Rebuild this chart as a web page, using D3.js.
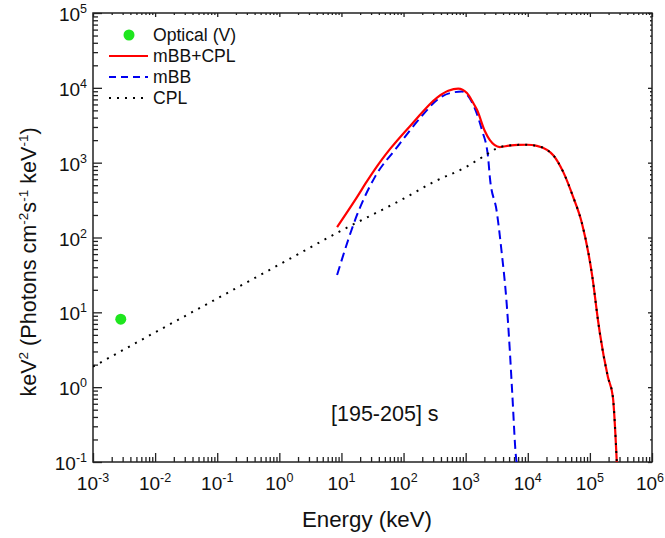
<!DOCTYPE html>
<html>
<head>
<meta charset="utf-8">
<script src="https://cdn.jsdelivr.net/npm/d3@7"></script>
<style>
  html, body { margin: 0; padding: 0; background: #fff; }
  svg { display: block; font-family: "Liberation Sans", Arial, sans-serif; }
</style>
</head>
<body>
<svg id="chart" width="665" height="538"></svg>
<script>
// ---------- data ----------
const xTickExps = [-3, -2, -1, 0, 1, 2, 3, 4, 5, 6];
const yTickExps = [-1, 0, 1, 2, 3, 4, 5];

const opticalE = [0.0028];
const opticalF = [8.1];

const cplE = [0.001, 0.01, 0.1, 1, 10, 100, 316, 1000, 1905, 3548, 5000, 7000, 9772, 14000, 20400, 25700, 37150, 53700, 74130, 109600, 134900, 144500, 195000, 234400, 271000];
const cplF = [1.88, 5.4, 15.3, 43.5, 124, 330, 560, 870, 1202, 1615, 1690, 1730, 1735, 1680, 1480, 1259, 753, 349, 157, 29.7, 7.9, 5.3, 1.37, 0.74, 0.1];

const mbbE = [8.51, 18.6, 34.7, 79.4, 186, 389, 562, 871, 1259, 1820, 2291, 2455, 3162, 3802, 4571, 5129, 5623, 6457, 6600];
const mbbF = [31.6, 219, 646, 1622, 3981, 7413, 8511, 8913, 6457, 2754, 1202, 631, 224, 63, 13.2, 3.16, 0.83, 0.117, 0.1];

const sumE = [8.51, 17.8, 25.7, 44.7, 60.3, 141, 347, 525, 759, 1047, 1318, 1514, 2042, 2455, 3548, 5000, 7000, 9772, 14000, 20400, 25700, 37150, 53700, 74130, 109600, 134900, 144500, 195000, 234400, 271000];
const sumF = [138, 347, 562, 1096, 1514, 3388, 7413, 9120, 9772, 8511, 6310, 5129, 2630, 1995, 1615, 1690, 1730, 1735, 1680, 1480, 1259, 753, 349, 157, 29.7, 7.9, 5.3, 1.37, 0.74, 0.1];

const legendLabels = ["Optical (V)", "mBB+CPL", "mBB", "CPL"];
const periodLabel = "[195-205] s";

// ---------- layout ----------
const svg = d3.select("#chart");
const L = 93, R = 652, T = 13, B = 462;
const x = d3.scaleLog().domain([1e-3, 1e6]).range([L, R]);
const y = d3.scaleLog().domain([1e-1, 1e5]).range([B, T]);

const defs = svg.append("defs");
defs.append("clipPath").attr("id", "clip").append("rect")
  .attr("x", L).attr("y", T).attr("width", R - L).attr("height", B - T);

function minors(exps) {
  const out = [];
  for (let i = 0; i < exps.length - 1; i++) {
    for (let m = 2; m <= 9; m++) out.push(m * Math.pow(10, exps[i]));
  }
  return out;
}
const xMajor = xTickExps.map(e => Math.pow(10, e));
const yMajor = yTickExps.map(e => Math.pow(10, e));
const xMinor = minors(xTickExps);
const yMinor = minors(yTickExps);

const axisColor = "#222";
function styleAxis(g) {
  g.select(".domain").remove();
  g.selectAll("line").attr("stroke", axisColor).attr("stroke-width", 1.3);
}
svg.append("g").attr("transform", `translate(0,${B})`)
  .call(d3.axisBottom(x).tickValues(xMajor).tickSize(-9).tickFormat("")).call(styleAxis);
svg.append("g").attr("transform", `translate(0,${B})`)
  .call(d3.axisBottom(x).tickValues(xMinor).tickSize(-5).tickFormat("")).call(styleAxis);
svg.append("g").attr("transform", `translate(0,${T})`)
  .call(d3.axisTop(x).tickValues(xMajor).tickSize(-4).tickFormat("")).call(styleAxis);
svg.append("g").attr("transform", `translate(0,${T})`)
  .call(d3.axisTop(x).tickValues(xMinor).tickSize(-2).tickFormat("")).call(styleAxis);
svg.append("g").attr("transform", `translate(${L},0)`)
  .call(d3.axisLeft(y).tickValues(yMajor).tickSize(-9).tickFormat("")).call(styleAxis);
svg.append("g").attr("transform", `translate(${L},0)`)
  .call(d3.axisLeft(y).tickValues(yMinor).tickSize(-5).tickFormat("")).call(styleAxis);
svg.append("g").attr("transform", `translate(${R},0)`)
  .call(d3.axisRight(y).tickValues(yMajor).tickSize(-4).tickFormat("")).call(styleAxis);
svg.append("g").attr("transform", `translate(${R},0)`)
  .call(d3.axisRight(y).tickValues(yMinor).tickSize(-2).tickFormat("")).call(styleAxis);

svg.append("rect").attr("x", L).attr("y", T).attr("width", R - L).attr("height", B - T)
  .attr("fill", "none").attr("stroke", axisColor).attr("stroke-width", 1.5);

// tick labels
const tickFont = 19, supFont = 12.5;
xTickExps.forEach((e, i) => {
  const shift = (i === xTickExps.length - 1) ? -2 : 0;
  const t = svg.append("text").attr("x", x(Math.pow(10, e)) + shift).attr("y", B + 28)
    .attr("text-anchor", "middle").attr("font-size", tickFont).attr("fill", "#111");
  t.append("tspan").text("10");
  t.append("tspan").attr("dy", -8).attr("font-size", supFont).text(String(e));
});
yTickExps.forEach(e => {
  const t = svg.append("text").attr("x", L - 6).attr("y", y(Math.pow(10, e)) + 8)
    .attr("text-anchor", "end").attr("font-size", tickFont).attr("fill", "#111");
  t.append("tspan").text("10");
  t.append("tspan").attr("dy", -8).attr("font-size", supFont).text(String(e));
});

// axis titles
svg.append("text").attr("x", 367).attr("y", 527)
  .attr("text-anchor", "middle").attr("font-size", 22.3).attr("fill", "#111")
  .text("Energy (keV)");

const yt = svg.append("text")
  .attr("transform", `translate(36,262) rotate(-90)`)
  .attr("text-anchor", "middle").attr("font-size", 21.6).attr("fill", "#111");
const ySup = 13.5;
yt.append("tspan").text("keV");
yt.append("tspan").attr("dy", -8).attr("font-size", ySup).text("2");
yt.append("tspan").attr("dy", 8).text(" (Photons cm");
yt.append("tspan").attr("dy", -8).attr("font-size", ySup).text("-2");
yt.append("tspan").attr("dy", 8).text("s");
yt.append("tspan").attr("dy", -8).attr("font-size", ySup).text("-1");
yt.append("tspan").attr("dy", 8).text(" keV");
yt.append("tspan").attr("dy", -8).attr("font-size", ySup).text("-1");
yt.append("tspan").attr("dy", 8).text(")");

// ---------- curves ----------
const line = d3.line().x(d => x(d[0])).y(d => y(d[1])).curve(d3.curveMonotoneX);
const plot = svg.append("g").attr("clip-path", "url(#clip)");

plot.append("path").datum(d3.zip(mbbE, mbbF)).attr("d", line)
  .attr("fill", "none").attr("stroke", "#0000f0").attr("stroke-width", 2)
  .attr("stroke-dasharray", "9,5");
plot.append("path").datum(d3.zip(sumE, sumF)).attr("d", line)
  .attr("fill", "none").attr("stroke", "#ff0000").attr("stroke-width", 2.2);
plot.append("path").datum(d3.zip(cplE, cplF)).attr("d", line)
  .attr("fill", "none").attr("stroke", "#000").attr("stroke-width", 2)
  .attr("stroke-dasharray", "2,6");

plot.selectAll("circle.opt").data(d3.zip(opticalE, opticalF)).join("circle")
  .attr("class", "opt")
  .attr("cx", d => x(d[0])).attr("cy", d => y(d[1])).attr("r", 5.5)
  .attr("fill", "#1ee61e");

// ---------- legend ----------
const legFont = 17.6;
const lg = svg.append("g");
const legRows = [35, 56, 77, 98];
lg.append("circle").attr("cx", 129).attr("cy", legRows[0]).attr("r", 5.5).attr("fill", "#1ee61e");
lg.append("line").attr("x1", 109).attr("x2", 148).attr("y1", legRows[1]).attr("y2", legRows[1])
  .attr("stroke", "#ff0000").attr("stroke-width", 2);
lg.append("line").attr("x1", 109).attr("x2", 148).attr("y1", legRows[2]).attr("y2", legRows[2])
  .attr("stroke", "#0000f0").attr("stroke-width", 2).attr("stroke-dasharray", "7,5");
lg.append("line").attr("x1", 109).attr("x2", 149).attr("y1", legRows[3]).attr("y2", legRows[3])
  .attr("stroke", "#000").attr("stroke-width", 2).attr("stroke-dasharray", "2,6");
legendLabels.forEach((s, i) => {
  lg.append("text").attr("x", 153).attr("y", legRows[i] + 6)
    .attr("font-size", legFont).attr("fill", "#111").text(s);
});

svg.append("text").attr("x", 331).attr("y", 421)
  .attr("font-size", 21.5).attr("fill", "#111").text(periodLabel);
</script>
</body>
</html>
